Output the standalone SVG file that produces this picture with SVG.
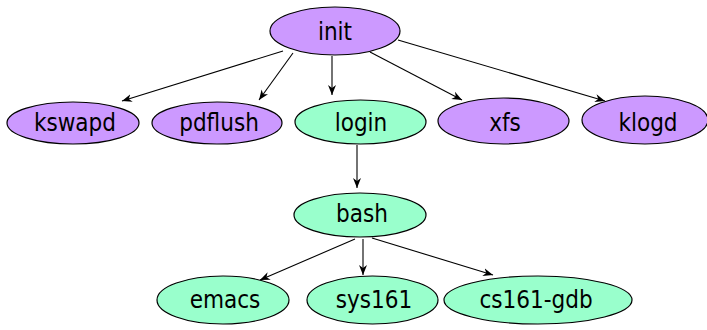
<svg xmlns="http://www.w3.org/2000/svg" width="707" height="330" viewBox="0 0 707 330">
  <style>
    .node ellipse { stroke: #000; stroke-width: 1.2; }
    .sys ellipse { fill: #cc99ff; }
    .user ellipse { fill: #99ffcc; }
    .node text { font-family: "DejaVu Sans Condensed", "DejaVu Sans", Tahoma, sans-serif; font-stretch: condensed; font-size: 24px; fill: #000; text-anchor: middle; dominant-baseline: central; }
    .edge { stroke: #000; stroke-width: 1.1; fill: none; marker-end: url(#arrow); }
  </style>
  <defs>
    <marker id="arrow" viewBox="0 0 10 10" refX="10" refY="5" markerWidth="10" markerHeight="10" markerUnits="userSpaceOnUse" orient="auto">
      <path d="M0,1 L10,5 L0,9 L3,5 Z" fill="#000"/>
    </marker>
  </defs>

  <!-- process tree edges -->
  <g id="connectors">
    <line class="edge" x1="283" y1="51" x2="122" y2="101"/>
    <line class="edge" x1="293" y1="53" x2="259" y2="100"/>
    <line class="edge" x1="332" y1="56" x2="332" y2="95"/>
    <line class="edge" x1="370" y1="52" x2="462" y2="100"/>
    <line class="edge" x1="398" y1="40" x2="605" y2="101"/>
    <line class="edge" x1="357" y1="145" x2="357" y2="188"/>
    <line class="edge" x1="355" y1="239" x2="260" y2="280"/>
    <line class="edge" x1="363" y1="239" x2="363" y2="275"/>
    <line class="edge" x1="372" y1="238" x2="493" y2="275"/>
  </g>

  <g id="init" class="node sys">
    <ellipse cx="335" cy="31" rx="65" ry="24"/>
    <text x="335" y="32">init</text>
  </g>
  <g id="kswapd" class="node sys">
    <ellipse cx="73" cy="123" rx="66" ry="21"/>
    <text x="75" y="123">kswapd</text>
  </g>
  <g id="pdflush" class="node sys">
    <ellipse cx="217" cy="123" rx="65" ry="21"/>
    <text x="219" y="123">pdflush</text>
  </g>
  <g id="login" class="node user">
    <ellipse cx="360.5" cy="122" rx="65.5" ry="22"/>
    <text x="361" y="123">login</text>
  </g>
  <g id="xfs" class="node sys">
    <ellipse cx="503.5" cy="121" rx="65.5" ry="23"/>
    <text x="505" y="123">xfs</text>
  </g>
  <g id="klogd" class="node sys">
    <ellipse cx="645" cy="120" rx="63" ry="24"/>
    <text x="648" y="123">klogd</text>
  </g>
  <g id="bash" class="node user">
    <ellipse cx="360" cy="215" rx="66" ry="22"/>
    <text x="362" y="214">bash</text>
  </g>
  <g id="emacs" class="node user">
    <ellipse cx="223" cy="300" rx="66" ry="24"/>
    <text x="225" y="300">emacs</text>
  </g>
  <g id="sys161" class="node user">
    <ellipse cx="372.5" cy="300" rx="65.5" ry="24"/>
    <text x="374" y="300">sys161</text>
  </g>
  <g id="cs161-gdb" class="node user">
    <ellipse cx="538" cy="300" rx="94" ry="24"/>
    <text x="536" y="300">cs161-gdb</text>
  </g>
</svg>
